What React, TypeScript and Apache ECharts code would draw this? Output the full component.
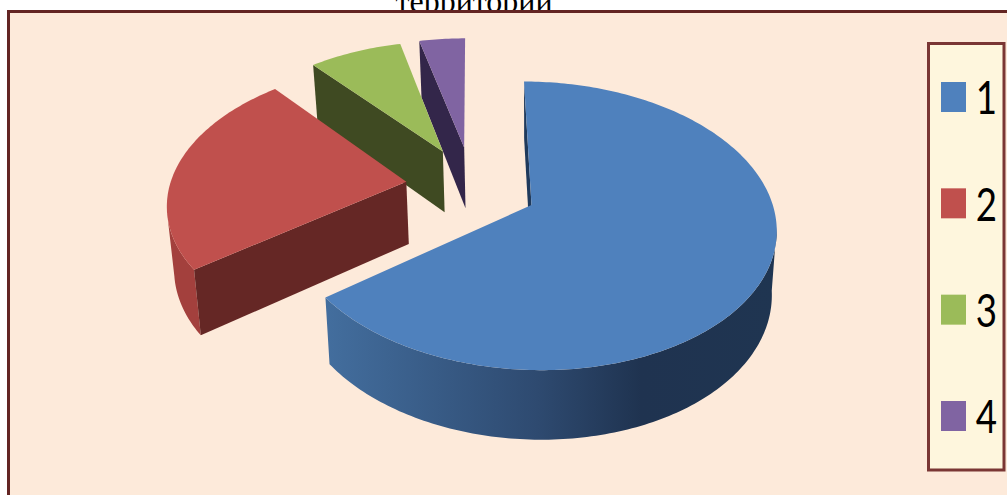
import React, { useEffect, useRef } from "react";
import * as echarts from "echarts";

// Pie shares, clockwise from twelve o'clock
const categories = ["1", "2", "3", "4"];
const shares = [64.8, 24, 7.5, 3.7];
const captionText = "территории";

const topColors = ["#4F81BD", "#C0504D", "#9BBB59", "#8064A2"];
const cutColors = ["#1F3A5C", "#652725", "#3F4A22", "#33264A"];
const wallColors: any[] = [
  new echarts.graphic.LinearGradient(0, 0, 1, 0, [
    { offset: 0, color: "#436E9E" },
    { offset: 0.47, color: "#2E4A70" },
    { offset: 0.7, color: "#1F3350" },
    { offset: 1, color: "#1F3551" },
  ]),
  "#A3403D",
  "#7C9647",
  "#664F82",
];

// Perspective projection of the pie's plane onto the canvas
const view = { cx: 531.5, cy: 205, rx: 242.5, ry: 142, skew: 8.6, depth: 0.145, wallBase: 24, wallScale: 39, taper: 0.98 };
const sliceRadius = [0.995, 0.995, 0.985, 0.985];
const pieCentre = { u: -0.2476, v: -0.1335 };
const explode = { u: 0.277, v: 0.298 };
const eyeV = 1 / view.depth;
const cutEyeU = -0.5;

function project(u: number, v: number, dropped: boolean): number[] {
  const w = 1 - view.depth * v;
  let x = view.cx + (view.rx * u + view.skew * v) / w;
  let y = view.cy + (view.ry * v) / w;
  if (dropped) {
    x = view.cx + (x - view.cx) * view.taper;
    y += view.wallBase + view.wallScale / w;
  }
  return [x, y];
}

function renderSlice(index: number) {
  const total = shares.reduce((a, b) => a + b, 0);
  const before = shares.slice(0, index).reduce((a, b) => a + b, 0);
  const start = (before / total) * 360;
  const end = ((before + shares[index]) / total) * 360;
  const mid = (((start + end) / 2) * Math.PI) / 180;
  const apexU = pieCentre.u + explode.u * Math.sin(mid);
  const apexV = pieCentre.v - explode.v * Math.cos(mid);
  const radius = sliceRadius[index];
  const rad = (deg: number) => (deg * Math.PI) / 180;

  const rimPoint = (deg: number, dropped: boolean) =>
    project(apexU + radius * Math.sin(rad(deg)), apexV - radius * Math.cos(rad(deg)), dropped);

  const steps = Math.max(4, Math.ceil(end - start));
  const angles = Array.from({ length: steps + 1 }, (_, i) => start + ((end - start) * i) / steps);

  // Only the part of the outer wall that faces the viewer is drawn
  const facing = angles.filter((deg) => {
    const t = rad(deg);
    const pu = apexU + radius * Math.sin(t);
    const pv = apexV - radius * Math.cos(t);
    return Math.sin(t) * -pu - Math.cos(t) * (eyeV - pv) > 0;
  });

  const apexTop = project(apexU, apexV, false);
  const apexLow = project(apexU, apexV, true);

  const poly = (points: number[][], fill: any) => ({
    type: "polygon",
    shape: { points },
    style: { fill, stroke: null },
    silent: true,
  });

  const cutFace = (deg: number, sign: number) => {
    const t = rad(deg);
    const nu = sign * Math.cos(t);
    const nv = sign * Math.sin(t);
    if (nu * (cutEyeU - apexU) + nv * (eyeV - apexV) <= 0) return [];
    return [poly([apexTop, rimPoint(deg, false), rimPoint(deg, true), apexLow], cutColors[index])];
  };

  const wall =
    facing.length > 1
      ? [
          poly(
            [...facing.map((d) => rimPoint(d, false)), ...facing.slice().reverse().map((d) => rimPoint(d, true))],
            wallColors[index]
          ),
        ]
      : [];

  return {
    type: "group",
    children: [
      ...wall,
      ...cutFace(start, -1),
      ...cutFace(end, 1),
      poly([apexTop, ...angles.map((d) => rimPoint(d, false))], topColors[index]),
    ],
  };
}

export default function App() {
  const ref = useRef<HTMLDivElement>(null);

  useEffect(() => {
    const chart = echarts.init(ref.current!, null, { renderer: "svg" });
    const legendEntries = categories.flatMap((name, i) => [
      {
        type: "rect",
        z: 3,
        silent: true,
        shape: { x: 941, y: 82 + i * 106.33, width: 25, height: 30 },
        style: { fill: topColors[i] },
      },
      {
        type: "text",
        z: 3,
        silent: true,
        x: 986.5,
        y: 96 + i * 106.33,
        scaleX: 0.78,
        style: {
          text: name,
          fontFamily: "Lato",
          fontWeight: 400,
          fontSize: 47,
          fill: "#000000",
          align: "center",
          verticalAlign: "middle",
        },
      },
    ]);
    chart.setOption({
      animation: false,
      backgroundColor: "#FFFFFF",
      title: {
        text: captionText,
        left: 469,
        textAlign: "center",
        top: -20,
        z: 0,
        textStyle: { fontFamily: "Liberation Serif", fontSize: 32, fontWeight: "normal", color: "#000000" },
      },
      graphic: [
        {
          type: "rect",
          z: 1,
          silent: true,
          shape: { x: 8.5, y: 11.5, width: 1010, height: 500 },
          style: { fill: "#FDEADA", stroke: "#632523", lineWidth: 3 },
        },
        {
          type: "rect",
          z: 2,
          silent: true,
          shape: { x: 928.5, y: 43.5, width: 75.5, height: 426.5 },
          style: { fill: "#FEF6DD", stroke: "#7A3634", lineWidth: 3 },
        },
        ...legendEntries,
      ],
      series: categories.map((name, i) => ({
        type: "custom",
        name,
        coordinateSystem: "none",
        z: 5 - i,
        silent: true,
        itemStyle: { color: topColors[i] },
        data: [shares[i]],
        renderItem: () => renderSlice(i),
      })),
    });
    return () => chart.dispose();
  }, []);

  return <div ref={ref} style={{ position: "absolute", left: 0, top: 0, width: 1007, height: 495 }} />;
}
